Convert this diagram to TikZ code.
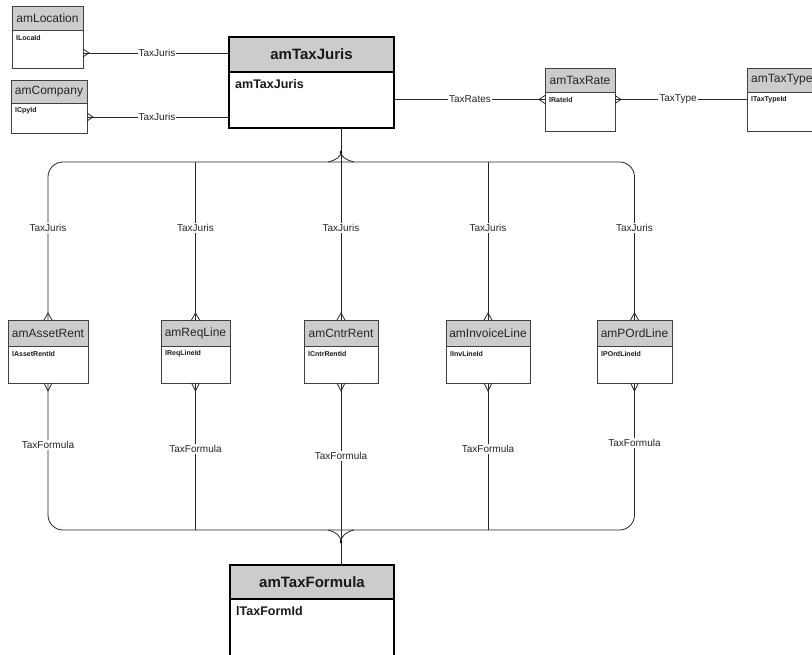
\documentclass[tikz,border=0pt]{standalone}
\usepackage{fontspec}
\setmainfont{Liberation Sans}
\tikzset{
 conn/.style={draw=black!85, line width=0.8pt},
 ent/.style={draw=black!75, line width=0.9pt},
 entbig/.style={draw=black, line width=1.8pt},
 hdr/.style={fill=black!20},
 ttl/.style={font=\fontsize{12}{14}\selectfont, text=black!85, inner sep=0pt},
 ttlbig/.style={font=\bfseries\fontsize{15}{17}\selectfont, text=black!90, inner sep=0pt},
 fld/.style={font=\bfseries\fontsize{7}{8}\selectfont, anchor=west, inner sep=0pt, text=black!90},
 fldbig/.style={font=\bfseries\fontsize{12.5}{14}\selectfont, anchor=west, inner sep=0pt, text=black!90},
 lbl/.style={font=\fontsize{10}{12}\selectfont, fill=white, inner sep=1pt, text=black!85},
 dotm/.style={fill=black},
}
% #1 name #2 x #3 y #4 w #5 h #6 header height #7 title #8 field
\newcommand\erframe[6]{%
 \node[minimum width=#4pt, minimum height=#5pt, anchor=north west, inner sep=0pt, outer sep=0pt] (#1) at (#2,#3) {};
 \fill[hdr] (#1.north west) rectangle ([yshift=-#6pt]#1.north east);
 \draw[ent] ([yshift=-#6pt]#1.north west) -- ([yshift=-#6pt]#1.north east);
 \draw[ent] (#1.north west) rectangle (#1.south east);
}
\newcommand\erbox[8]{%
 \erframe{#1}{#2}{#3}{#4}{#5}{#6}
 \node[ttl] (#1-t) at ([yshift={-#6pt/2}]#1.north) {#7};
 \node[fld] (#1-f) at ([xshift=4pt,yshift={-#6pt-8pt}]#1.north west) {#8};
}
\newcommand\erbig[8]{%
 \node[minimum width=#4pt, minimum height=#5pt, anchor=north west, inner sep=0pt, outer sep=0pt] (#1) at (#2,#3) {};
 \fill[hdr] (#1.north west) rectangle ([yshift=-#6pt]#1.north east);
 \draw[entbig] ([yshift=-#6pt]#1.north west) -- ([yshift=-#6pt]#1.north east);
 \draw[entbig] (#1.north west) rectangle (#1.south east);
 \node[ttlbig] (#1-t) at ([yshift={-#6pt/2}]#1.north) {#7};
 \node[fldbig] (#1-f) at ([xshift=6pt,yshift={-#6pt-12pt}]#1.north west) {#8};
}
% horizontal crow's foot: #1 edge point, #2 tip offset (pt)
\newcommand\crowh[2]{\draw[conn] ([yshift=4pt]#1) -- ([xshift=#2pt]#1) -- ([yshift=-4pt]#1);}
% vertical crow's foot: #1 edge point, #2 tip offset (pt, + is up)
\newcommand\crowv[2]{\draw[conn] ([xshift=-4pt]#1) -- ([yshift=#2pt]#1) -- ([xshift=4pt]#1);}
\begin{document}
\begin{tikzpicture}[x=1pt,y=-1pt]
\useasboundingbox (0,0) rectangle (812,655);
\fill[white] (0,0) rectangle (812,655);
\clip (0,0) rectangle (812,655);

% entities
\erbox{Loc}{12}{6}{71}{62}{24}{amLocation}{lLocaId}
\erbox{Cpy}{11}{80}{76}{53}{23}{amCompany}{lCpyId}
\erbig{TJ}{229}{37}{165}{91}{35}{amTaxJuris}{amTaxJuris}
\erbox{TR}{545}{68}{70}{63}{24}{amTaxRate}{lRateId}
\erframe{TT}{747}{68}{76}{63}{24}
\node[ttl, anchor=west] (TT-t) at ([xshift=4pt,yshift=-12pt]TT.north west) {amTaxType};
\node[fld] (TT-f) at ([xshift=4pt,yshift=-32pt]TT.north west) {lTaxTypeId};
\erbox{AR}{8}{320}{80}{63}{26}{amAssetRent}{lAssetRentId}
\erbox{RL}{161}{320}{69}{63}{26}{amReqLine}{lReqLineId}
\erbox{CR}{304}{320}{74}{63}{26}{amCntrRent}{lCntrRentId}
\erbox{IL}{446}{320}{84}{63}{26}{amInvoiceLine}{lInvLineId}
\erbox{PO}{597}{320}{75}{63}{26}{amPOrdLine}{lPOrdLineId}
\erbig{TF}{230}{565}{164}{120}{34}{amTaxFormula}{lTaxFormId}

% top-left connectors
\coordinate (locp) at ([yshift=-16pt]Loc.east);
\draw[conn] (locp) -- (locp -| TJ.west);
\crowh{locp}{6}
\node[lbl] (lj1) at (157,53) {TaxJuris};
\coordinate (cpyp) at ([yshift=-10.5pt]Cpy.east);
\draw[conn] (cpyp) -- (cpyp -| TJ.west);
\crowh{cpyp}{6}
\node[lbl] (lj2) at (157,117) {TaxJuris};

% right connectors
\coordinate (tjr) at ([yshift=-17pt]TJ.east);
\draw[conn] (tjr) -- (tjr -| TR.west);
\coordinate (trl) at (tjr -| TR.west);
\crowh{trl}{-6}
\node[lbl] (lrates) at (470,99.5) {TaxRates};
\draw[conn] (TR.east) -- (TR.east -| TT.west);
\crowh{TR.east}{6}
\node[lbl] (ltype) at (678,99.5) {TaxType};

% top bus
\coordinate (busT) at (341,162);
\draw[conn, rounded corners=15pt] (AR.north) |- (busT) -| (PO.north);
\draw[conn] (RL.north) -- (RL.north |- busT);
\draw[conn] (IL.north) -- (IL.north |- busT);
\draw[conn] (CR.north) -- (CR.north |- TJ.south);
\draw[conn] ([xshift=-13pt]busT) .. controls ([xshift=-5pt,yshift=2pt]busT) and ([yshift=5pt]busT) .. ([yshift=10pt]busT)
            .. controls ([yshift=5pt]busT) and ([xshift=5pt,yshift=2pt]busT) .. ([xshift=13pt]busT);
\fill[dotm] ([yshift=10pt]busT) circle (1.4pt);
\foreach \n in {AR,RL,CR,IL,PO}{
  \crowv{\n.north}{7}
  \crowv{\n.south}{-8}
  \node[lbl] (lj-\n) at (\n.north |- 0,228) {TaxJuris};
}

% bottom bus
\coordinate (busB) at (341,530);
\draw[conn, rounded corners=15pt] (AR.south) |- (busB) -| (PO.south);
\draw[conn] (RL.south) -- (RL.south |- busB);
\draw[conn] (IL.south) -- (IL.south |- busB);
\draw[conn] (CR.south) -- (CR.south |- TF.north);
\draw[conn] ([xshift=-13pt]busB) .. controls ([xshift=-5pt,yshift=-2pt]busB) and ([yshift=-6pt]busB) .. ([yshift=-12pt]busB)
            .. controls ([yshift=-6pt]busB) and ([xshift=5pt,yshift=-2pt]busB) .. ([xshift=13pt]busB);
\fill[dotm] ([yshift=-12pt]busB) circle (1.4pt);
\node[lbl] (lf-AR) at (AR.south |- 0,445) {TaxFormula};
\node[lbl] (lf-RL) at (RL.south |- 0,449) {TaxFormula};
\node[lbl] (lf-CR) at (CR.south |- 0,456) {TaxFormula};
\node[lbl] (lf-IL) at (IL.south |- 0,449) {TaxFormula};
\node[lbl] (lf-PO) at (PO.south |- 0,443) {TaxFormula};
\end{tikzpicture}
\end{document}
